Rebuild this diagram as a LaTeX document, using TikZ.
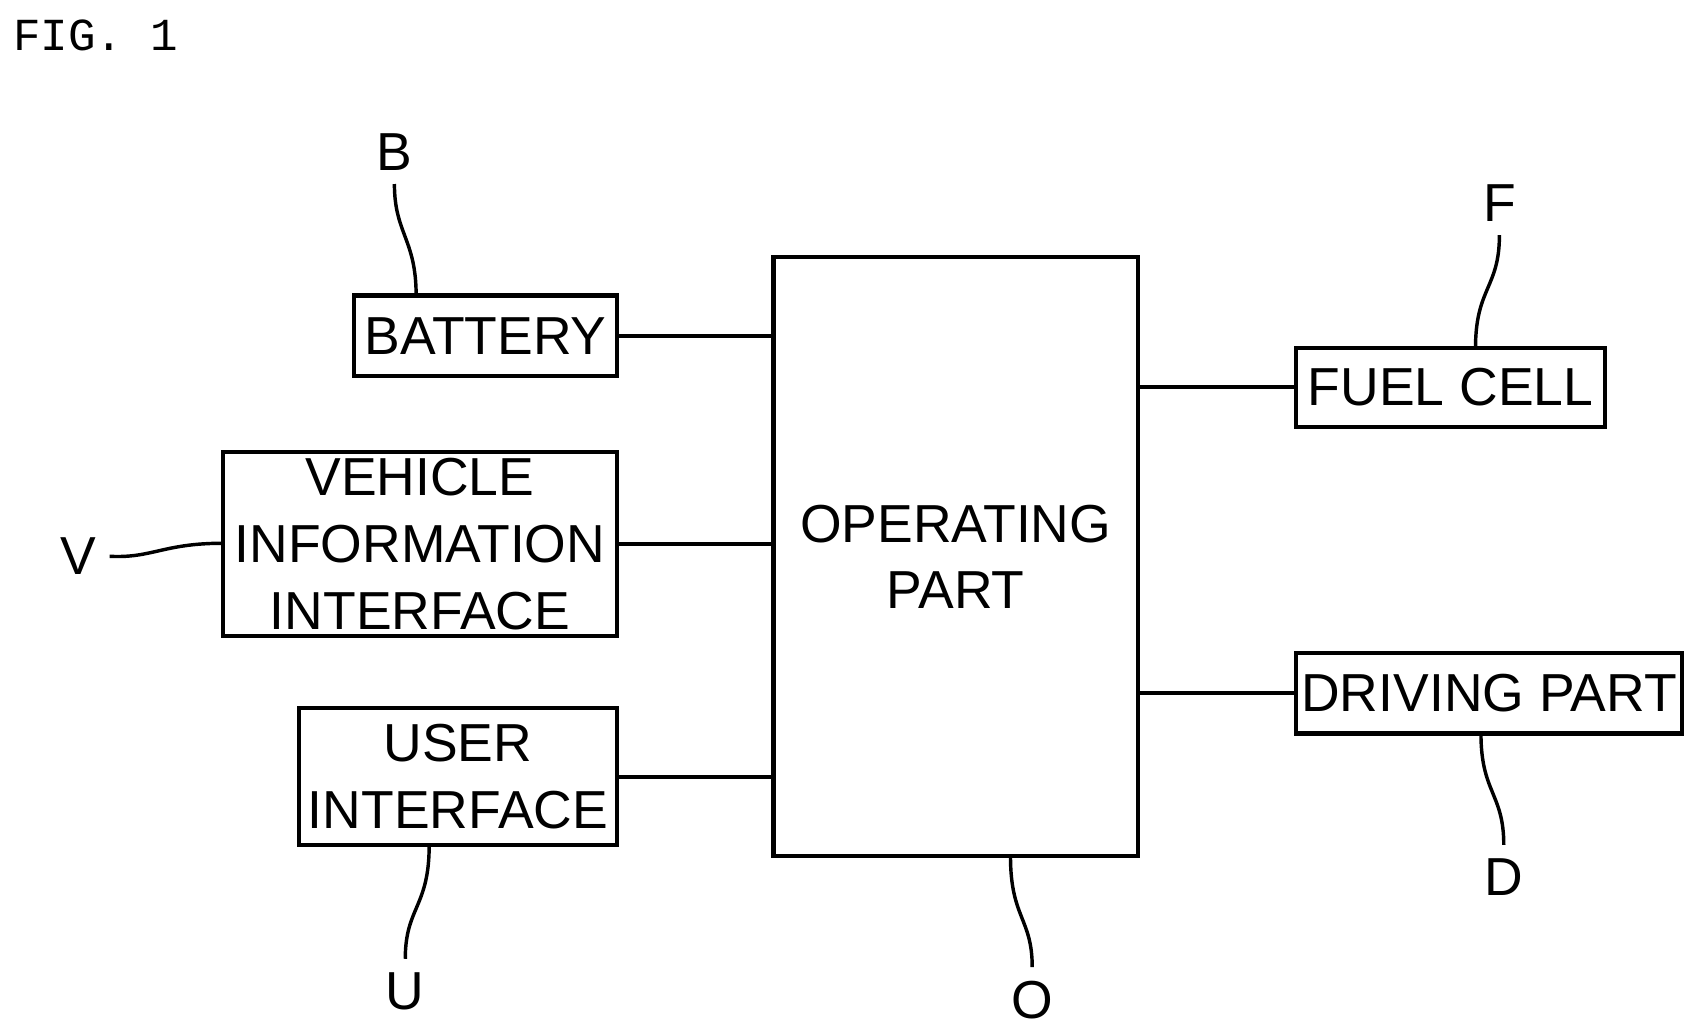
\documentclass[tikz,border=0pt]{standalone}
\usepackage{fontspec}
\setmainfont{Liberation Sans}
\setmonofont{Liberation Mono}
\begin{document}
\begin{tikzpicture}[x=0.01cm,y=-0.01cm,
	blk/.style={draw, line width=1.1pt, inner sep=0pt, align=center, font=\fontsize{14}{17.5}\selectfont},
	lead/.style={line width=0.9pt},
	lbl/.style={font=\fontsize{14}{17}\selectfont}]
	\useasboundingbox (0,0) rectangle (1560,952);
	\node[font=\ttfamily\fontsize{12}{14}\selectfont] (fig) at (88,33) {FIG. 1};

	\node[blk, minimum width=242\pgflinewidth, minimum width=2.42cm, minimum height=0.74cm](bat) at (447,309) {BATTERY};
	\node[blk, minimum width=3.63cm, minimum height=1.69cm](veh) at (386.5,500.5) {VEHICLE\\INFORMATION\\INTERFACE};
	\node[blk, minimum width=2.93cm, minimum height=1.26cm](usr) at (421.5,715) {USER\\INTERFACE};
	\node[blk, minimum width=3.35cm, minimum height=5.51cm](op) at (879.5,512.5) {OPERATING\\PART};
	\node[blk, minimum width=2.84cm, minimum height=0.73cm](fc) at (1335,356.5) {FUEL CELL};
	\node[blk, minimum width=3.55cm, minimum height=0.74cm](drv) at (1370.5,638) {DRIVING PART};

	\draw[line width=1pt](bat.east) -- (bat.east -| op.west);
	\draw[line width=1pt](veh.east) -- (veh.east -| op.west);
	\draw[line width=1pt](usr.east) -- (usr.east -| op.west);
	\draw[line width=1pt](fc.west -| op.east) -- (fc.west);
	\draw[line width=1pt](drv.west -| op.east) -- (drv.west);

	% reference letters
	\node[lbl](lB) at (363,140) {B};
	\node[lbl](lF) at (1380,187) {F};
	\node[lbl](lV) at (72,512) {V};
	\node[lbl](lU) at (373,912) {U};
	\node[lbl](lO) at (950,920) {O};
	\node[lbl](lD) at (1384,807) {D};
	\coordinate (cB) at (383,272);
	\coordinate (cF) at (1358,320);
	\coordinate (cV) at (205,500);
	\coordinate (cU) at (395,778);
	\coordinate (cO) at (930,788);
	\coordinate (cD) at (1363,675);
	\draw[lead](cB) .. controls (383,220) and (363,215) .. (lB.south);
	\draw[lead](cF) .. controls (1358,265) and (1380,265) .. (lF.south);
	\draw[lead](cV) .. controls (150,500) and (140,514) .. (lV.east);
	\draw[lead](cU) .. controls (395,835) and (373,835) .. (lU.north);
	\draw[lead](cO) .. controls (930,845) and (950,845) .. (lO.north);
	\draw[lead](cD) .. controls (1363,730) and (1384,730) .. (lD.north);
\end{tikzpicture}
\end{document}
